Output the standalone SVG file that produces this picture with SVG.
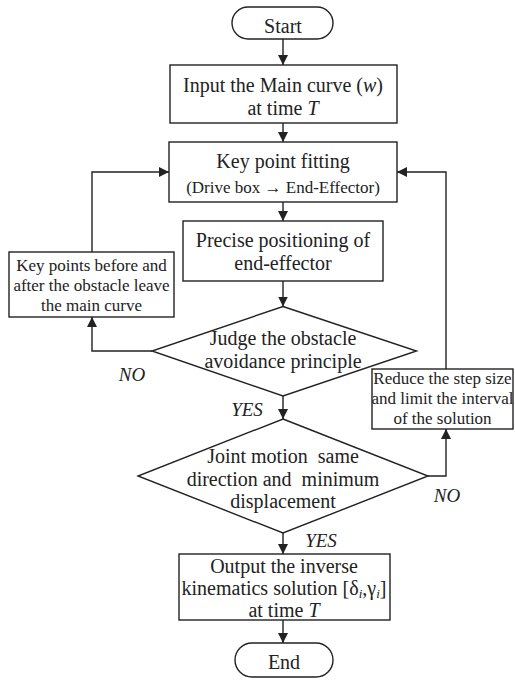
<svg xmlns="http://www.w3.org/2000/svg" width="515" height="684" viewBox="0 0 515 684">
<style>
.s{fill:#fff;stroke:#222;stroke-width:1.4}
text{font-family:"Liberation Serif","Times New Roman",serif;fill:#222;text-anchor:middle}
.t{font-size:20px}
.m{font-size:17px}
.lb{font-size:19px;font-style:italic}
.i{font-style:italic}
.c{fill:none;stroke:#222;stroke-width:1.4}
</style>
<defs>
<marker id="ah" viewBox="0 0 10 10" refX="10" refY="5" markerWidth="10" markerHeight="10" markerUnits="userSpaceOnUse" orient="auto">
<path d="M0,0 L10,5 L0,10 z" fill="#222"/>
</marker>
</defs>
<g id="connectors">
<path class="c" d="M283,39 V65" marker-end="url(#ah)"/>
<path class="c" d="M283,123 V142" marker-end="url(#ah)"/>
<path class="c" d="M283,202 V221" marker-end="url(#ah)"/>
<path class="c" d="M283,281 V306.5" marker-end="url(#ah)"/>
<path class="c" d="M283,396 V419" marker-end="url(#ah)"/>
<path class="c" d="M283,533 V554" marker-end="url(#ah)"/>
<path class="c" d="M283,620 V643" marker-end="url(#ah)"/>
<path class="c" d="M152,351 H92 V317" marker-end="url(#ah)"/>
<path class="c" d="M92,252 V172 H169" marker-end="url(#ah)"/>
<path class="c" d="M428,476 H446 V429" marker-end="url(#ah)"/>
<path class="c" d="M446,369 V172 H397" marker-end="url(#ah)"/>
<text class="lb" x="132" y="381">NO</text>
<text class="lb" x="447" y="502">NO</text>
<text class="lb" x="247" y="416">YES</text>
<text class="lb" x="321" y="547">YES</text>
</g>
<g id="start">
<rect class="s" x="232" y="7" width="101" height="32" rx="16"/>
<text class="t" x="283" y="33">Start</text>
</g>
<g id="input">
<rect class="s" x="170" y="65" width="227" height="58"/>
<text class="t" x="283" y="92">Input the Main curve (<tspan class="i">w</tspan>)</text>
<text class="t" x="283" y="115">at time <tspan class="i">T</tspan></text>
</g>
<g id="keyfit">
<rect class="s" x="169" y="142" width="228" height="60"/>
<text class="t" x="283" y="168">Key point fitting</text>
<text class="m" x="283" y="193">(Drive box → End-Effector)</text>
</g>
<g id="precise">
<rect class="s" x="183" y="221" width="200" height="60"/>
<text class="t" x="283" y="247">Precise positioning of</text>
<text class="t" x="283" y="270">end-effector</text>
</g>
<g id="judge">
<polygon class="s" points="283,306.5 416.5,351 283,396 152,351"/>
<text class="t" x="283" y="345">Judge the obstacle</text>
<text class="t" x="283" y="368">avoidance principle</text>
</g>
<g id="keypoints">
<rect class="s" x="9" y="252" width="165" height="65"/>
<text class="m" x="91.5" y="271">Key points before and</text>
<text class="m" x="91.5" y="291">after the obstacle leave</text>
<text class="m" x="91.5" y="311">the main curve</text>
</g>
<g id="joint">
<polygon class="s" points="283,419 428,476 283,533 138,476"/>
<text class="t" x="283" y="463" xml:space="preserve">Joint motion  same</text>
<text class="t" x="283" y="486" xml:space="preserve">direction and  minimum</text>
<text class="t" x="283" y="508">displacement</text>
</g>
<g id="reduce">
<rect class="s" x="372" y="369" width="141" height="60"/>
<text class="m" x="442.5" y="384">Reduce the step size</text>
<text class="m" x="442.5" y="404">and limit the interval</text>
<text class="m" x="442.5" y="424">of the solution</text>
</g>
<g id="output">
<rect class="s" x="179" y="554" width="211" height="66"/>
<text class="t" x="284" y="573">Output the inverse</text>
<text class="t" x="284" y="595">kinematics solution [δ<tspan class="i" font-size="13" dy="3">i</tspan><tspan dy="-3">,γ</tspan><tspan class="i" font-size="13" dy="3">i</tspan><tspan dy="-3">]</tspan></text>
<text class="t" x="284" y="617">at time <tspan class="i">T</tspan></text>
</g>
<g id="end">
<rect class="s" x="235" y="643" width="98" height="34" rx="17"/>
<text class="t" x="284" y="669">End</text>
</g>
</svg>
